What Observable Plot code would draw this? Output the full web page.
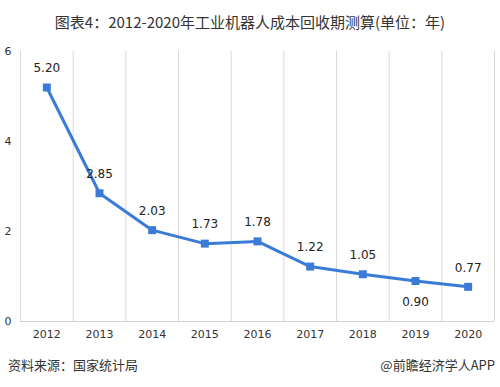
<!DOCTYPE html>
<html><head><meta charset="utf-8">
<script src="https://cdn.jsdelivr.net/npm/d3@7"></script>
<script src="https://cdn.jsdelivr.net/npm/@observablehq/plot@0.6"></script>
<style>
body{margin:0;background:#fff;font-family:"Noto Sans CJK SC","Noto Sans",sans-serif;}
#wrap{position:relative;width:500px;height:387px;overflow:hidden;}
#title{position:absolute;top:11px;left:0;width:500px;text-align:center;font-size:15px;color:#333;}
#chart{position:absolute;top:40px;left:0;}
#src{position:absolute;top:355px;left:8px;font-size:13px;color:#333;}
#brand{position:absolute;top:355px;right:5px;font-size:13px;color:#333;}
</style></head>
<body><div id="wrap">
<div id="title">图表4：2012-2020年工业机器人成本回收期测算(单位：年)</div>
<div id="chart"></div>
<div id="src">资料来源：国家统计局</div>
<div id="brand">@前瞻经济学人APP</div>
</div>
<script>
const years = [2012, 2013, 2014, 2015, 2016, 2017, 2018, 2019, 2020];
const values = [5.20, 2.85, 2.03, 1.73, 1.78, 1.22, 1.05, 0.90, 0.77];
const yTicks = [0, 2, 4, 6];
const belowYears = [2019];

const data = years.map((y, i) => ({year: y, value: values[i]}));
const bounds = [years[0] - 0.5, ...years.map(y => y + 0.5)];
const color = "#3b7bd8";

const chart = Plot.plot({
  width: 500,
  height: 310,
  marginLeft: 20,
  marginRight: 6,
  marginTop: 11,
  marginBottom: 29,
  style: {fontFamily: "'DejaVu Sans', sans-serif", color: "#333", background: "#fff"},
  x: {domain: [years[0] - 0.5, years[years.length - 1] + 0.5], label: null},
  y: {domain: [0, 6], label: null},
  marks: [
    Plot.ruleX(bounds, {stroke: "#d9d9d9", strokeWidth: 1}),
    Plot.ruleY([0], {stroke: "#d0d0d0", strokeWidth: 1}),
    Plot.axisX({ticks: years, tickFormat: d => String(d), tickSize: 0, tickPadding: 9, fontSize: 11, letterSpacing: 2.2, label: null}),
    Plot.axisY({ticks: yTicks, tickFormat: d => String(d), tickSize: 0, tickPadding: 9, fontSize: 11, label: null}),
    Plot.line(data, {x: "year", y: "value", stroke: color, strokeWidth: 3}),
    Plot.dot(data, {x: "year", y: "value", symbol: "square", r: 4.5, fill: color, stroke: null}),
    Plot.text(data.filter(d => !belowYears.includes(d.year)), {x: "year", y: "value", text: d => d.value.toFixed(2), dy: -19, fontSize: 12, fill: "#222", letterSpacing: 1.5}),
    Plot.text(data.filter(d => belowYears.includes(d.year)), {x: "year", y: "value", text: d => d.value.toFixed(2), dy: 21, fontSize: 12, fill: "#222", letterSpacing: 1.5})
  ]
});
document.getElementById("chart").appendChild(chart);
</script>
</body></html>
